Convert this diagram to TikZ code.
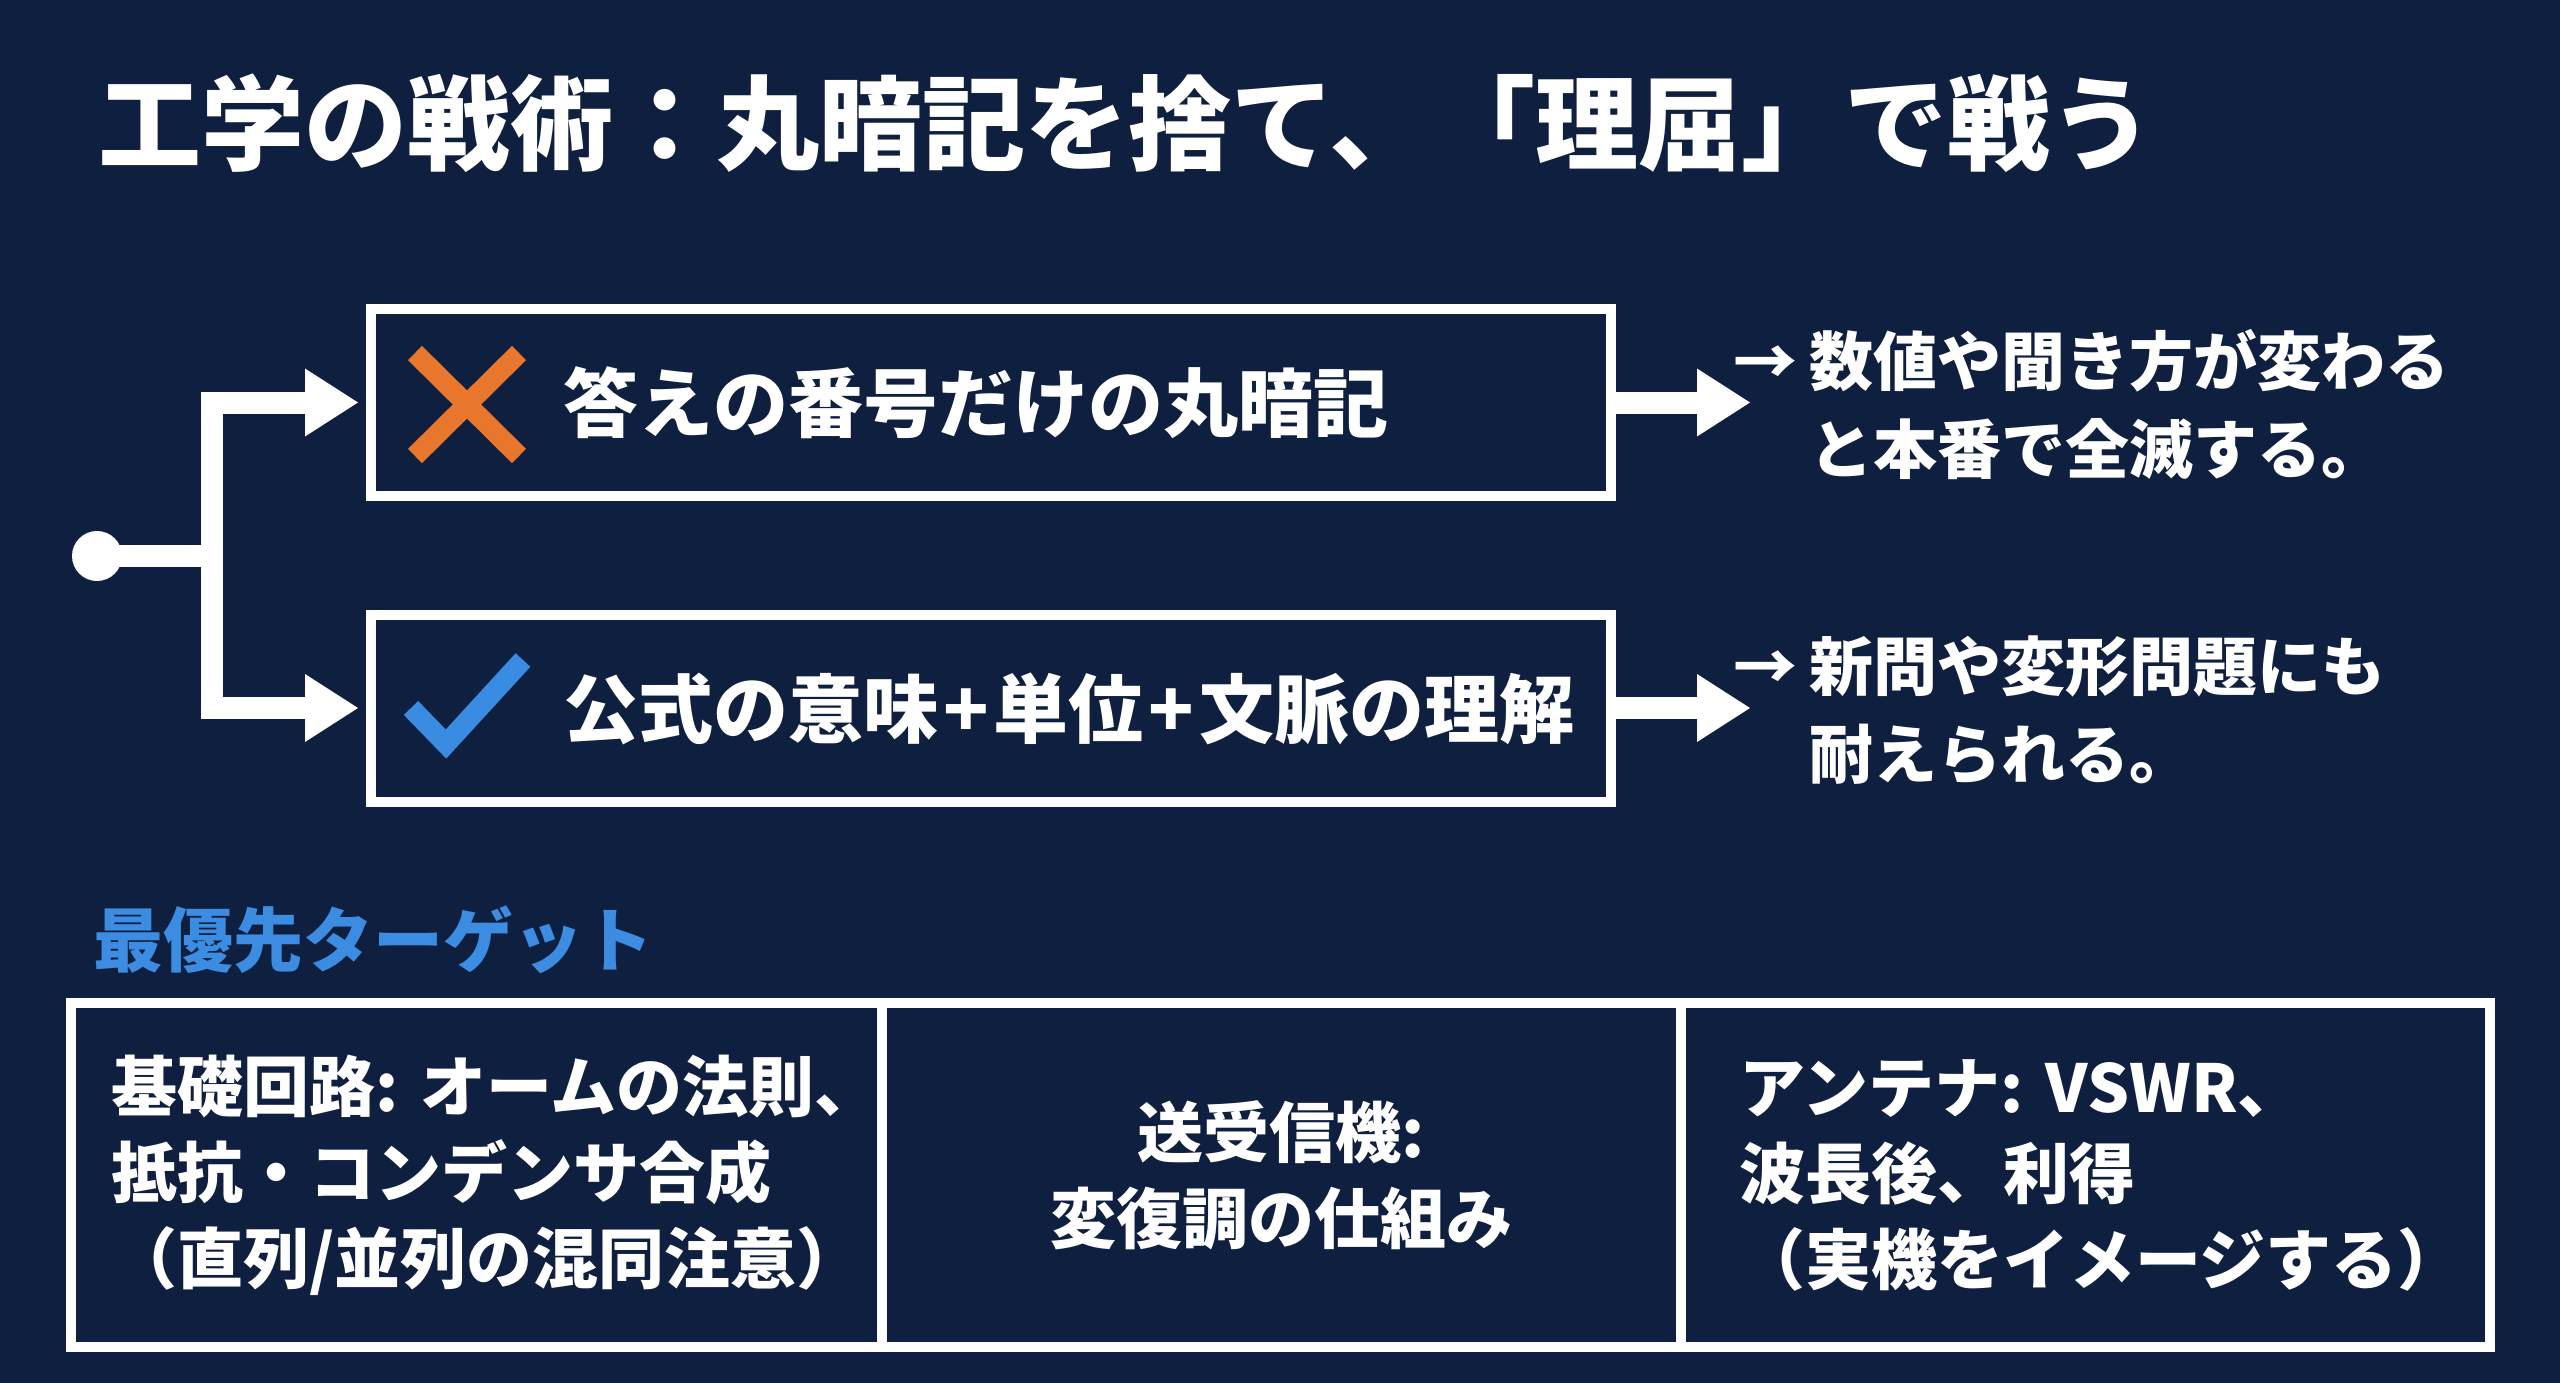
\documentclass[tikz,border=0pt]{standalone}
\usepackage{fontspec}
\setmainfont{Noto Sans CJK JP}
\usetikzlibrary{arrows.meta}
\definecolor{bg}{RGB}{15,31,63}
\definecolor{xorange}{RGB}{232,118,44}
\definecolor{ckblue}{RGB}{58,140,226}
\definecolor{headblue}{RGB}{60,140,225}
\tikzset{
  conn/.style={draw=white, line width=22pt, line join=miter},
  tipped/.style={-{Triangle[length=53pt 0 0, width=68pt 0 0, line width=0pt 0]}},
  mainbox/.style={draw=white, line width=10pt, minimum width=1240pt, minimum height=187pt, inner sep=0pt},
  boxtext/.style={text=white, font=\bfseries\fontsize{75}{90}\selectfont, anchor=west, inner sep=0pt},
  sidetext/.style={text=white, font=\bfseries\fontsize{64}{88}\selectfont, anchor=west, align=left, inner sep=0pt},
  cell/.style={draw=white, line width=10pt, minimum height=344pt, align=left, text=white, font=\bfseries\fontsize{66}{86}\selectfont, inner ysep=0pt},
  heading/.style={text=white, font=\bfseries\fontsize{103}{120}\selectfont, anchor=west, inner sep=0pt},
  subhead/.style={text=headblue, font=\bfseries\fontsize{70}{84}\selectfont, anchor=west, inner sep=0pt},
}
\newcommand{\plusgap}{\kern5pt+\kern5pt}
\begin{document}
\begin{tikzpicture}[x=1pt, y=-1pt]
\useasboundingbox (0,0) rectangle (2560,1383);
\fill[bg] (0,0) rectangle (2560,1383);

% title
\node[heading] (title) at (98,123) {工学の戦術：丸暗記を捨て、「理屈」で戦う};

% main boxes
\node[mainbox] (b1) at (991,402.5) {};
\node[mainbox] (b2) at (991,708) {};

% tree connectors
\node[circle, fill=white, minimum size=50pt, inner sep=0pt] (dot) at (97,556) {};
\coordinate (j) at (212,556);
\draw[conn] (dot.center) -- (j);
\draw[conn, tipped, shorten >=8pt] (j) |- (b1.west);
\draw[conn, tipped, shorten >=8pt] (j) |- (b2.west);

% icons
\draw[xorange, line width=20pt] (415,353) -- (519,456) (519,353) -- (415,456);
\draw[ckblue, line width=20pt, line join=miter] (411,708) -- (446,744) -- (523,660);

% box texts
\node[boxtext] (t1) at (563,403) {答えの番号だけの丸暗記};
\node[boxtext] (t2) at (563,709) {公式の意味\plusgap 単位\plusgap 文脈の理解};

% right arrows
\coordinate (r1) at (1750,402.5);
\coordinate (r2) at (1750,708);
\draw[conn, tipped] (b1.east) -- (r1);
\draw[conn, tipped] (b2.east) -- (r2);

\node[sidetext] (s1) at (1809,405) {\llap{→\hspace{12pt}}数値や聞き方が変わる\\と本番で全滅する。};
\node[sidetext] (s2) at (1809,710) {\llap{→\hspace{12pt}}新問や変形問題にも\\耐えられる。};

% subheading
\node[subhead] (sub) at (93,940) {最優先ターゲット};

% table
\node[cell, minimum width=811pt, inner xsep=40pt, text width=731pt] (c1) at (476.5,1175) {基礎回路:~オームの法則、\\抵抗・コンデンサ合成\\（直列/並列の混同注意）};
\node[cell, minimum width=799pt, inner xsep=0pt, align=center] (c2) at (1281.5,1175) {送受信機:\\変復調の仕組み};
\node[cell, minimum width=809pt, inner xsep=58pt, text width=693pt] (c3) at (2085.5,1175) {アンテナ:~VSWR、\\波長後、利得\\（実機をイメージする）};
\end{tikzpicture}
\end{document}
